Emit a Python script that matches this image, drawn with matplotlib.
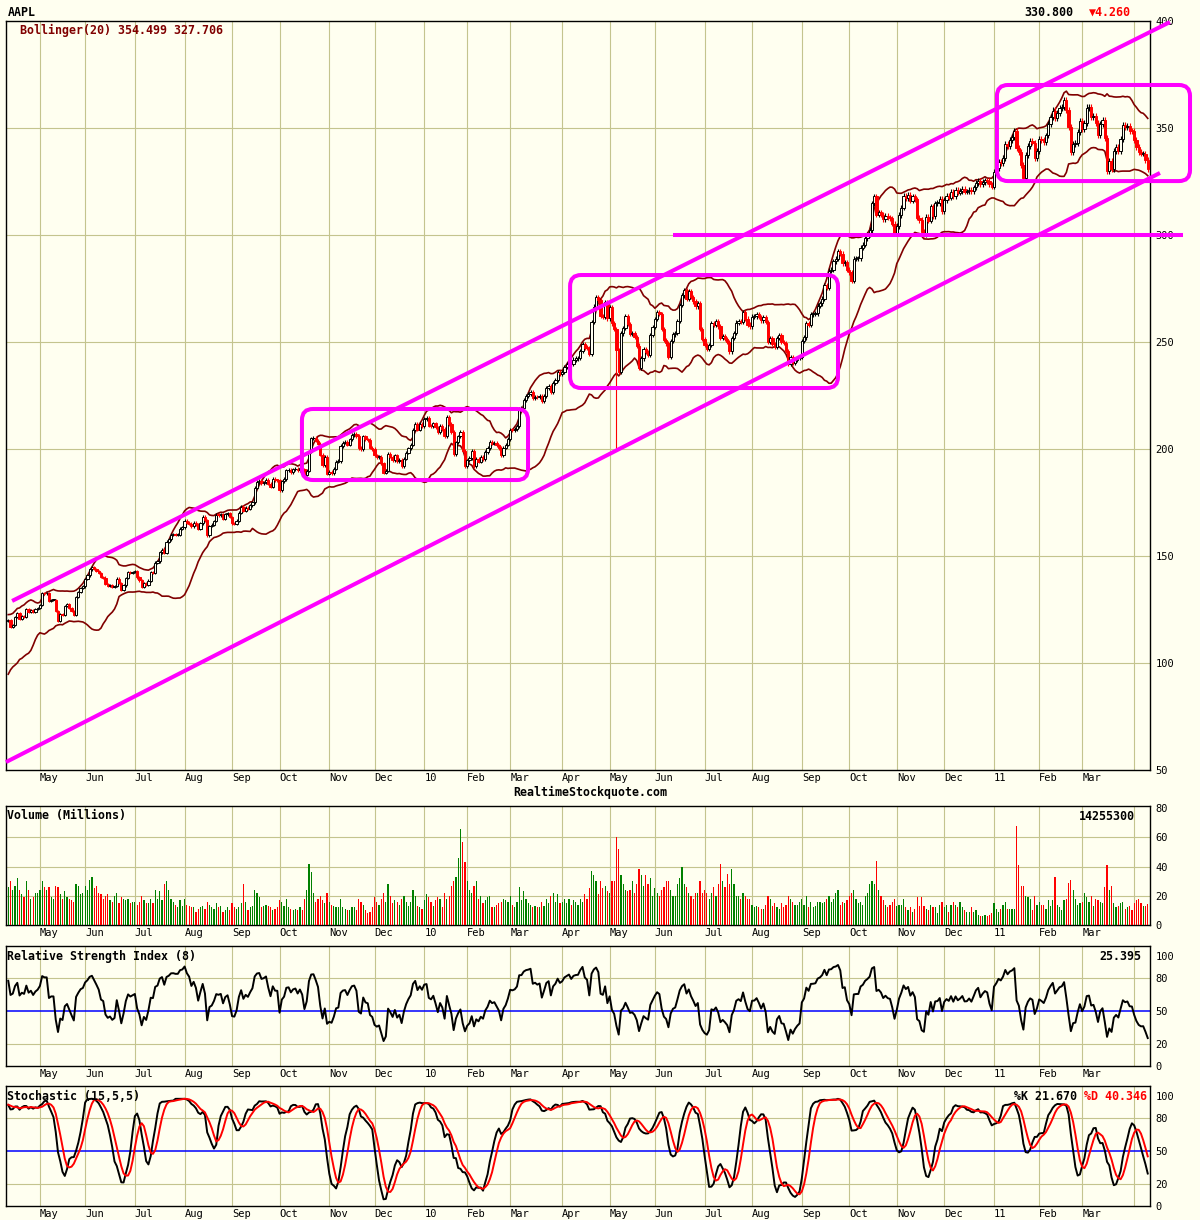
import numpy as np
import pandas as pd
import matplotlib
matplotlib.use("Agg")
import matplotlib.pyplot as plt
from matplotlib.patches import FancyBboxPatch
from matplotlib.transforms import IdentityTransform

# Jours de bourse (NYSE) de la période affichée
START, END = "2009-04-13", "2011-04-11"
HOLIDAYS = ["2009-05-25", "2009-07-03", "2009-09-07", "2009-11-26", "2009-12-25",
            "2010-01-01", "2010-01-18", "2010-02-15", "2010-04-02", "2010-05-31",
            "2010-07-05", "2010-09-06", "2010-11-25", "2010-12-24",
            "2011-01-17", "2011-02-21"]

# clôtures avant la période, servent seulement à amorcer les indicateurs
WARMUP_CLOSE = [83.11, 88.63, 92.68, 96.35, 95.93, 95.42, 99.66, 101.52, 101.62, 101.59,
                107.66, 106.50, 106.49, 109.87, 106.85, 104.49, 105.12, 108.69, 112.71,
                115.99, 118.45, 115.00, 116.32, 119.57]

# clôtures journalières, une ligne par mois
CLOSE_2009 = [
    120.22, 117.05, 117.64, 121.45, 123.42, 120.50, 121.76, 121.51, 125.40, 123.90, 124.73, 123.90, 125.14, 125.83,
    127.24, 132.71, 132.50, 132.50, 129.06, 129.57, 129.57, 124.42, 119.49, 122.95, 122.42, 126.65, 127.45, 125.87, 124.18, 122.50, 130.78, 133.05, 135.07, 135.81,
    139.35, 140.95, 143.74, 144.67, 143.85, 143.02, 142.15, 140.25, 139.95, 136.97, 136.09, 136.35, 135.58, 135.88, 139.48, 137.37, 134.01, 136.22, 139.86, 142.44, 141.97, 142.43,
    142.83, 140.02, 138.61, 135.40, 137.22, 136.36, 138.52, 142.34, 142.27, 146.88, 147.52, 151.75, 152.91, 151.51, 156.74, 157.82, 159.99, 160.10, 160.00, 160.03, 162.79, 163.39,
    166.43, 165.55, 165.11, 163.91, 165.51, 164.72, 162.83, 165.31, 168.42, 166.78, 159.59, 164.00, 164.60, 166.33, 169.22, 169.06, 169.40, 167.41, 169.45, 170.05, 168.21,
    165.30, 165.18, 166.55, 170.31, 172.93, 171.14, 172.56, 172.16, 173.72, 175.16, 181.87, 184.55, 185.02, 184.02, 184.48, 185.50, 183.82, 182.37, 186.15, 185.38, 185.35,
    180.86, 184.90, 186.02, 190.01, 190.25, 189.27, 190.47, 190.81, 190.02, 191.29, 190.56, 188.05, 189.86, 198.76, 204.92, 205.20, 203.94, 202.48, 197.37, 192.40, 196.35, 188.50,
    189.31, 188.75, 190.81, 194.03, 194.34, 201.46, 202.98, 203.25, 201.99, 204.45, 206.63, 207.00, 205.96, 200.51, 199.92, 205.88, 204.44, 204.19, 200.59, 199.91,
    196.97, 196.23, 196.48, 193.32, 188.95, 189.87, 197.80, 196.43, 194.67, 196.98, 194.17, 195.03, 191.86, 195.43, 198.23, 200.36, 202.10, 209.04, 211.61, 209.10, 211.64, 210.73,
]
CLOSE_2010 = [
    214.01, 214.38, 210.97, 210.58, 211.98, 210.11, 207.72, 210.65, 209.43, 205.93, 215.04, 211.73, 208.07, 197.75, 203.08, 205.94, 207.88, 199.29, 192.06,
    194.73, 195.86, 199.23, 192.05, 195.46, 194.12, 196.19, 195.12, 198.67, 200.38, 203.40, 202.55, 202.93, 201.67, 200.42, 197.06, 200.66, 202.00, 204.62,
    208.99, 208.85, 209.33, 210.71, 218.95, 219.08, 223.02, 224.84, 225.50, 226.60, 223.84, 224.45, 224.12, 224.65, 222.25, 224.75, 228.36, 229.37, 226.65, 230.90, 232.39, 235.84, 235.00,
    235.97, 238.49, 239.54, 240.60, 239.95, 241.79, 242.29, 242.43, 245.69, 248.92, 247.40, 247.07, 244.59, 259.22, 266.47, 270.83, 269.50, 262.04, 261.60, 268.64, 261.09,
    266.35, 258.68, 255.98, 246.25, 235.86, 253.99, 256.52, 262.09, 258.36, 253.82, 254.22, 252.36, 248.34, 237.76, 242.32, 246.76, 245.22, 244.11, 253.35, 256.88,
    260.83, 263.95, 263.12, 255.96, 250.94, 249.33, 243.20, 250.51, 253.51, 254.28, 259.69, 267.25, 271.87, 274.07, 270.17, 273.85, 270.97, 269.00, 266.70, 268.30, 256.17, 251.53,
    248.48, 246.94, 248.63, 258.66, 258.09, 259.62, 257.28, 251.80, 252.73, 251.45, 249.90, 245.58, 251.89, 254.24, 259.02, 259.94, 259.28, 264.08, 260.96, 258.11, 257.25,
    261.85, 261.93, 262.98, 261.70, 260.09, 261.75, 259.41, 250.19, 251.79, 249.10, 247.64, 251.97, 253.07, 249.88, 249.64, 245.80, 239.93, 242.89, 240.28, 241.62, 242.50, 243.10,
    250.33, 252.17, 258.77, 257.81, 262.92, 263.07, 263.41, 267.04, 268.06, 270.22, 276.57, 275.37, 283.23, 283.77, 287.75, 288.92, 292.32, 291.16, 286.86, 287.37, 283.75,
    282.52, 278.64, 288.94, 289.19, 289.22, 294.07, 295.36, 298.54, 300.14, 302.31, 314.74, 318.00, 309.49, 310.53, 309.52, 307.47, 308.84, 308.05, 307.83, 305.24, 300.98,
    304.18, 309.36, 312.80, 318.27, 317.13, 318.62, 316.08, 318.03, 316.66, 308.03, 307.04, 301.59, 300.50, 308.43, 306.73, 313.36, 308.73, 314.80, 315.00, 316.87, 311.15,
    316.40, 318.15, 317.44, 320.15, 318.21, 321.01, 319.76, 320.56, 321.67, 320.29, 320.36, 321.25, 320.61, 322.21, 324.20, 325.16, 323.60, 324.68, 325.47, 325.29, 323.66, 322.56,
]
CLOSE_2011 = [
    329.57, 331.29, 334.00, 333.73, 336.12, 342.45, 341.64, 344.42, 345.68, 348.48, 340.65, 338.84, 332.68, 326.72, 337.45, 341.40, 343.85, 343.21, 336.10, 339.32,
    345.03, 344.32, 343.44, 346.50, 351.88, 355.20, 358.16, 354.54, 356.85, 359.18, 359.90, 363.13, 358.30, 350.56, 338.61, 342.62, 342.88, 348.16, 353.21,
    349.31, 352.12, 359.56, 360.00, 355.36, 355.76, 352.47, 346.67, 351.99, 353.56, 345.43, 330.01, 334.64, 330.67, 339.30, 341.20, 339.19, 344.97, 351.54, 350.44, 350.96, 348.63, 348.51,
    344.56, 341.19, 338.89, 338.04, 338.08, 335.06, 330.80,
]

# volumes en millions, une ligne par mois
VOL_2009 = [
    26, 30, 24, 27, 32, 24, 21, 19, 30, 24, 18, 19, 22, 22,
    24, 30, 26, 24, 26, 19, 18, 27, 26, 21, 18, 23, 19, 18, 17, 16, 28, 27, 21, 22,
    27, 24, 31, 33, 25, 27, 22, 21, 18, 20, 21, 17, 16, 20, 22, 15, 19, 18, 17, 18, 15, 16,
    16, 14, 16, 20, 17, 15, 15, 18, 15, 24, 18, 23, 17, 28, 30, 24, 18, 16, 14, 12, 17, 13,
    18, 14, 13, 12, 12, 9, 11, 12, 13, 11, 16, 14, 12, 11, 15, 12, 13, 9, 10, 12, 10,
    15, 12, 11, 12, 15, 28, 16, 10, 12, 13, 24, 22, 19, 12, 13, 14, 13, 12, 10, 11, 12,
    17, 16, 13, 18, 12, 11, 10, 11, 10, 12, 10, 18, 24, 42, 36, 22, 16, 18, 20, 17, 15, 22,
    16, 14, 13, 12, 12, 18, 12, 11, 10, 10, 12, 12, 10, 18, 16, 14, 10, 8, 9, 12,
    19, 16, 14, 18, 22, 16, 28, 20, 15, 17, 16, 14, 18, 20, 16, 13, 16, 24, 20, 13, 12, 11,
]
VOL_2010 = [
    17, 21, 19, 16, 13, 17, 19, 18, 12, 22, 18, 20, 27, 30, 33, 46, 66, 57, 43,
    30, 24, 22, 27, 30, 18, 20, 15, 17, 19, 20, 12, 12, 14, 15, 16, 18, 17, 16,
    20, 14, 12, 16, 26, 17, 23, 18, 15, 14, 12, 13, 12, 12, 16, 13, 18, 15, 20, 22, 16, 21, 15,
    16, 18, 15, 18, 14, 17, 16, 14, 18, 16, 21, 18, 25, 37, 34, 30, 21, 30, 25, 27, 23,
    22, 30, 30, 60, 52, 34, 28, 24, 23, 24, 30, 22, 28, 38, 34, 27, 34, 28, 32, 20,
    25, 22, 20, 24, 26, 30, 30, 24, 20, 20, 28, 32, 40, 28, 26, 22, 20, 18, 22, 22, 30, 22,
    24, 22, 18, 22, 26, 20, 28, 42, 30, 26, 35, 28, 38, 28, 20, 20, 18, 22, 20, 18, 18,
    14, 12, 13, 12, 11, 11, 14, 20, 18, 13, 15, 12, 11, 15, 12, 14, 20, 18, 16, 14, 14, 16,
    18, 14, 20, 12, 16, 12, 13, 16, 16, 15, 16, 18, 20, 16, 18, 22, 24, 14, 16, 15, 17,
    20, 22, 24, 18, 15, 16, 14, 20, 22, 28, 30, 28, 44, 24, 20, 17, 14, 12, 14, 16, 18,
    13, 14, 14, 18, 12, 10, 12, 9, 11, 19, 13, 19, 13, 11, 10, 14, 12, 12, 8, 14, 16,
    12, 14, 9, 14, 16, 14, 12, 16, 12, 10, 9, 9, 12, 9, 10, 7, 6, 6, 7, 6, 7, 8,
]
VOL_2011 = [
    15, 11, 9, 11, 14, 16, 11, 11, 11, 11, 68, 41, 27, 27, 20, 19, 18, 10, 20, 14,
    16, 14, 14, 11, 17, 13, 17, 33, 14, 12, 10, 17, 18, 29, 31, 24, 18, 14, 15,
    16, 22, 19, 16, 20, 13, 18, 17, 16, 15, 26, 41, 24, 27, 15, 12, 13, 15, 16, 11, 12, 13, 10,
    15, 17, 18, 15, 13, 13, 14.26,
]

# mèches remarquables (flash crash)
LOW_SPIKES = {"2010-05-06": 199.25}

# tracés de l'analyste : lignes de tendance et zones (index de séance, prix)
UPPER_X, UPPER_Y = [1.7, 513.8], [129.0, 399.5]
LOWER_X, LOWER_Y = [-1.0, 509.4], [53.7, 329.0]
LEVEL_X, LEVEL_Y = [294.0, 519.6], 300
BOXES = [(129.9, 229.9, 185.5, 218.7),
         (248.5, 367.0, 228.5, 281.3),
         (437.3, 522.7, 325.2, 370.1)]

W, H = 1200, 1220
BG = "#fffff0"
GRID = "#c4c48e"
MAGENTA = "#ff00ff"
BAND = "#800000"
GREEN = "#008000"
FONT = ["DejaVu Sans Mono", "DejaVu Sans"]
plt.rcParams["font.family"] = FONT

dates = pd.bdate_range(START, END, freq="C", holidays=HOLIDAYS)
close = np.array(CLOSE_2009 + CLOSE_2010 + CLOSE_2011)
volume = np.array(VOL_2009 + VOL_2010 + VOL_2011, dtype=float)
n = len(close)
assert len(dates) == n == len(volume), (len(dates), n, len(volume))

nw = len(WARMUP_CLOSE)
all_close = np.concatenate([WARMUP_CLOSE, close])
all_open = np.r_[all_close[0], all_close[:-1]]
all_high = np.maximum(all_open, all_close) * 1.004
all_low = np.minimum(all_open, all_close) * 0.996
for d, v in LOW_SPIKES.items():
    all_low[nw + dates.get_loc(pd.Timestamp(d))] = v

s = pd.Series(all_close)
mid = s.rolling(20, min_periods=1).mean()
sd = s.rolling(20, min_periods=1).std(ddof=0)
bb_up = (mid + 2 * sd).values[nw:]
bb_dn = (mid - 2 * sd).values[nw:]

delta = s.diff().fillna(0)
ag = delta.clip(lower=0).ewm(alpha=1 / 8, adjust=False).mean()
al = (-delta.clip(upper=0)).ewm(alpha=1 / 8, adjust=False).mean()
rsi = (100 - 100 / (1 + ag / al.replace(0, 1e-9))).values[nw:]

hh = pd.Series(all_high).rolling(15, min_periods=1).max()
ll = pd.Series(all_low).rolling(15, min_periods=1).min()
fast = 100 * (s - ll) / (hh - ll)
k_line = fast.rolling(5, min_periods=1).mean()
d_line = k_line.rolling(5, min_periods=1).mean()
k_line = k_line.values[nw:]
d_line = d_line.values[nw:]

opn = all_open[nw:]
high = all_high[nw:]
low = all_low[nw:]
prev = all_close[nw - 1:-1]
x = np.arange(n)

# début de chaque mois -> grille verticale et étiquettes
month_pos = [i for i in range(1, n) if dates[i].month != dates[i - 1].month]
month_lab = []
for i in month_pos:
    if i > n - 10:
        month_lab.append("")
    elif dates[i].month == 1:
        month_lab.append(dates[i].strftime("%y"))
    else:
        month_lab.append(dates[i].strftime("%b"))

fig = plt.figure(figsize=(W / 100, H / 100), dpi=100, facecolor=BG)


def panel(top, bottom, ylim, yticks):
    ax = fig.add_axes([6 / W, 1 - bottom / H, 1144 / W, (bottom - top) / H])
    ax.set_facecolor(BG)
    for sp in ax.spines.values():
        sp.set_linewidth(1.0)
        sp.set_color("black")
    ax.set_xlim(-1, n)
    ax.set_ylim(*ylim)
    ax.yaxis.tick_right()
    ax.set_yticks(yticks)
    ax.set_xticks(month_pos)
    ax.set_xticklabels(month_lab)
    for lab in ax.get_xticklabels():
        lab.set_ha("left")
    ax.tick_params(axis="both", length=0, labelsize=7.5, colors="black")
    ax.tick_params(axis="x", pad=2)
    ax.tick_params(axis="y", pad=4)
    ax.grid(axis="x", color=GRID, linewidth=0.8)
    ax.set_axisbelow(True)
    return ax


def ftext(px, py, txt, **kw):
    fig.text(px / W, 1 - py / H, txt, va="center", fontsize=8.4, fontweight="bold", **kw)


# --- prix ---
ax = panel(21, 770, (50, 400), np.arange(50, 401, 50))
for yv in range(100, 351, 50):
    ax.axhline(yv, color=GRID, linewidth=0.8, zorder=0)
ax.plot(x, bb_up, color=BAND, linewidth=1.2, zorder=2)
ax.plot(x, bb_dn, color=BAND, linewidth=1.2, zorder=2)

down = close < prev
col = np.where(down, "red", "black")
ax.vlines(x, low, high, colors=col, linewidth=0.8, zorder=3)
body_lo = np.minimum(opn, close)
body_h = np.maximum(np.abs(close - opn), 0.4)
face = np.where(close > opn, BG, "red")
ax.bar(x, body_h, bottom=body_lo, width=1.0, color=face, edgecolor=col,
       linewidth=0.7, zorder=4)

line_kw = dict(color=MAGENTA, linewidth=2.9, solid_capstyle="butt", zorder=6, clip_on=False)
ax.plot(UPPER_X, UPPER_Y, **line_kw)
ax.plot(LOWER_X, LOWER_Y, **line_kw)
ax.plot(LEVEL_X, [LEVEL_Y, LEVEL_Y], **line_kw)
for x0, x1, y0, y1 in BOXES:
    (p0x, p0y), (p1x, p1y) = ax.transData.transform([(x0, y0), (x1, y1)])
    box = FancyBboxPatch((p0x, p0y), p1x - p0x, p1y - p0y,
                         boxstyle="round,pad=0,rounding_size=11",
                         transform=IdentityTransform(), fill=False,
                         edgecolor=MAGENTA, linewidth=2.9, zorder=6, clip_on=False)
    ax.add_artist(box)

ftext(8, 12, "AAPL", ha="left")
ftext(1073, 12, "330.800", ha="right")
ftext(1089, 12, "▼4.260", ha="left", color="red")
ftext(20, 30, "Bollinger(20) 354.499 327.706", ha="left", color=BAND)
ftext(590, 792, "RealtimeStockquote.com", ha="center")

# --- volume ---
axv = panel(806, 925, (0, 81.4), [0, 20, 40, 60, 80])
for yv in (20, 40, 60):
    axv.axhline(yv, color=GRID, linewidth=0.8, zorder=0)
axv.bar(x, volume, width=0.55, color=np.where(down, "red", GREEN), zorder=3)
ftext(7, 816, "Volume (Millions)", ha="left")
ftext(1135, 816, "14255300", ha="right")

# --- RSI ---
axr = panel(946, 1066, (0, 109), [0, 20, 50, 80, 100])
for yv in (20, 80):
    axr.axhline(yv, color=GRID, linewidth=0.8, zorder=0)
axr.axhline(50, color="#0000ff", linewidth=1.1, zorder=1)
axr.plot(x, rsi, color="black", linewidth=1.4, zorder=3)
ftext(7, 956, "Relative Strength Index (8)", ha="left")
ftext(1141, 956, "25.395", ha="right")

# --- stochastique ---
axs = panel(1086, 1206, (0, 109), [0, 20, 50, 80, 100])
for yv in (20, 80):
    axs.axhline(yv, color=GRID, linewidth=0.8, zorder=0)
axs.axhline(50, color="#0000ff", linewidth=1.1, zorder=1)
axs.plot(x, k_line, color="black", linewidth=1.4, zorder=3)
axs.plot(x, d_line, color="red", linewidth=1.4, zorder=4)
ftext(7, 1096, "Stochastic (15,5,5)", ha="left")
ftext(1077, 1096, "%K 21.670", ha="right")
ftext(1147, 1096, "%D 40.346", ha="right", color="red")

fig.savefig("out.png", dpi=100, facecolor=BG)
